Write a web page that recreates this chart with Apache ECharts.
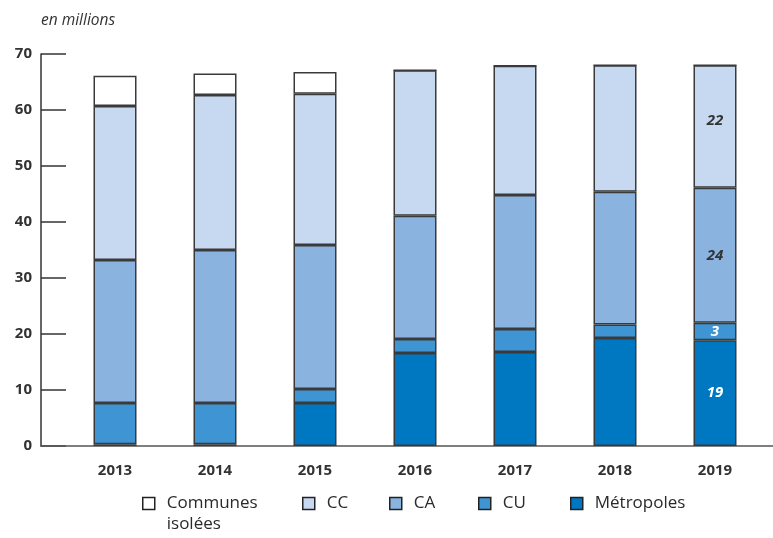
<!DOCTYPE html>
<html><head><meta charset="utf-8">
<script src="https://cdn.jsdelivr.net/npm/echarts@6/dist/echarts.min.js"></script>
<style>html,body{margin:0;padding:0;background:#fff}#c{width:773px;height:538px}</style>
</head><body><div id="c"></div>
<script>
const years = ['2013','2014','2015','2016','2017','2018','2019'];
const metropoles = [0.3, 0.3, 7.7, 16.6, 16.8, 19.3, 18.9];
const cu = [7.4, 7.4, 2.5, 2.5, 4.1, 2.4, 3.1];
const ca = [25.5, 27.3, 25.7, 22.0, 23.9, 23.7, 24.1];
const cc = [27.5, 27.7, 27.0, 26.0, 23.1, 22.6, 21.9];
const isolees = [5.4, 3.8, 3.9, 0, 0, 0, 0];
const yTicks = [0, 10, 20, 30, 40, 50, 60, 70];

const FONT = '"Open Sans", "Noto Sans", sans-serif';
const border = '#3a3a3a';
function mkSeries(name, data, color, labelColor) {
  return {
    name, type: 'bar', stack: 't', data, barWidth: 43,
    xAxisIndex: 0, yAxisIndex: 0,
    itemStyle: { color, borderColor: border, borderWidth: 1.5 },
    label: {
      show: true, position: 'inside', fontFamily: FONT, fontStyle: 'italic', fontWeight: 'bold',
      fontSize: 15, color: labelColor,
      formatter: p => (p.dataIndex === years.length - 1 && p.value > 0) ? String(Math.round(p.value)) : ''
    },
    emphasis: { disabled: true }
  };
}
const series = [
  mkSeries('Métropoles', metropoles, '#0078c1', '#ffffff'),
  mkSeries('CU', cu, '#3f95d3', '#ffffff'),
  mkSeries('CA', ca, '#8ab4df', '#333333'),
  mkSeries('CC', cc, '#c6d9f0', '#333333'),
  mkSeries('Communes isolées', isolees, '#ffffff', '#333333')
];
series[3].label.offset = [0, -6];

const legendBase = {
  orient: 'horizontal', itemWidth: 12, itemHeight: 12, itemGap: 0, padding: 0,
  icon: 'rect', selectedMode: false,
  itemStyle: { borderColor: '#222', borderWidth: 1.5 },
  textStyle: { fontFamily: FONT, fontSize: 17, color: '#2a2a2a', lineHeight: 21, padding: [5,0,0,7] }
};
const legendPos = [
  ['Communes isolées', 142, 469.5],
  ['CC', 302, 490.5],
  ['CA', 389, 490.5],
  ['CU', 478, 490.5],
  ['Métropoles', 570, 490.5]
];
const legends = legendPos.map(([n, l, t]) => Object.assign({}, legendBase, {
  data: [n], left: l, top: t,
  formatter: nm => nm === 'Communes isolées' ? '\nCommunes\nisolées' : nm
}));

const chart = echarts.init(document.getElementById('c'));
chart.setOption({
  animation: false,
  backgroundColor: '#fff',
  grid: [
    { left: 65, right: 8, top: 54, bottom: 92 },
    { left: 41, right: 0, top: 54, bottom: 92 },
    { left: 41, width: 25, top: 54, bottom: 92 }
  ],
  xAxis: [
    { type: 'category', data: years, gridIndex: 0,
      axisLine: { show: false }, axisTick: { show: false },
      axisLabel: { fontFamily: FONT, fontWeight: 'bold', fontSize: 15, color: '#333', margin: 17 } },
    { type: 'value', gridIndex: 1, min: 0, max: 1,
      axisLine: { show: true, lineStyle: { color: '#555', width: 1.5 } },
      axisTick: { show: false }, axisLabel: { show: false }, splitLine: { show: false } },
    { type: 'value', gridIndex: 2, min: 0, max: 1, show: false }
  ],
  yAxis: [
    { type: 'value', gridIndex: 0, min: 0, max: 70, interval: 10, show: false },
    { type: 'value', gridIndex: 1, min: 0, max: 70, interval: 10, show: false },
    { type: 'value', gridIndex: 2, min: 0, max: 70, interval: 10,
      name: 'en millions', nameLocation: 'end', nameGap: 25,
      nameTextStyle: { fontFamily: FONT, fontStyle: 'italic', fontSize: 15.5, color: '#333', align: 'left' },
      axisLine: { show: true, lineStyle: { color: '#333', width: 1.5 } },
      axisTick: { show: false },
      axisLabel: { fontFamily: FONT, fontWeight: 'bold', fontSize: 15, color: '#333', margin: 9,
        formatter: v => yTicks.includes(v) ? String(v) : '' },
      splitLine: { show: true, lineStyle: { color: '#333', width: 1.5 } } }
  ],
  legend: legends,
  series
});
</script></body></html>
